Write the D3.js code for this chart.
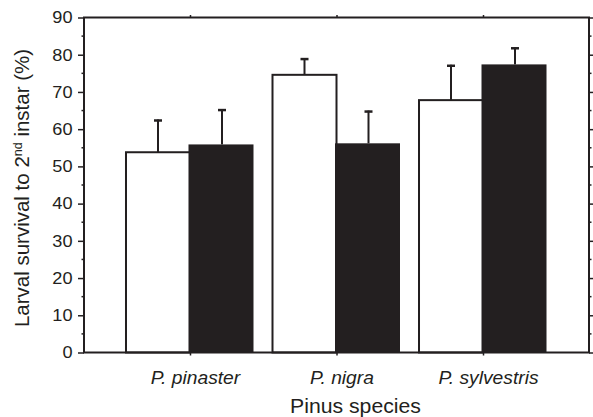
<!DOCTYPE html>
<html>
<head>
<meta charset="utf-8">
<script src="https://cdn.jsdelivr.net/npm/d3@7"></script>
<style>
  body { margin: 0; background: #fff; }
  text { font-family: Arial, "Liberation Sans", sans-serif; fill: #231f20; }
</style>
</head>
<body>
<div id="chart"></div>
<script>
// data
var species = ["P. pinaster", "P. nigra", "P. sylvestris"];
var whiteMeans = [53.8, 74.6, 67.8];
var whiteErrors = [8.8, 4.5, 9.5];
var blackMeans = [55.9, 56.2, 77.4];
var blackErrors = [9.5, 8.8, 4.6];
var yTicks = [0, 10, 20, 30, 40, 50, 60, 70, 80, 90];

var svgWidth = 593;
var svgHeight = 417;
var ink = "#231f20";
var stretch = 1.1; // the original figure's text is a bit wide

var margin = { top: 17.5, right: 4, bottom: 64.5, left: 84 };
var width = svgWidth - margin.left - margin.right;
var height = svgHeight - margin.top - margin.bottom;

var svg = d3.select("#chart")
  .append("svg")
  .attr("width", svgWidth)
  .attr("height", svgHeight);

var chartGroup = svg.append("g")
  .attr("transform", `translate(${margin.left}, ${margin.top})`);

// categories sit at 1, 2, 3 on a linear scale
var xScale = d3.scaleLinear()
  .domain([0.2765, 3.7235])
  .range([0, width]);

var yScale = d3.scaleLinear()
  .domain([0, 90])
  .range([height, 0]);

var barW = 64;

// bars
species.forEach(function(s, i) {
  var cx = xScale(i + 1);
  // white bar
  chartGroup.append("rect")
    .attr("x", cx - barW)
    .attr("y", yScale(whiteMeans[i]))
    .attr("width", barW)
    .attr("height", height - yScale(whiteMeans[i]))
    .attr("fill", "#fff")
    .attr("stroke", ink)
    .attr("stroke-width", 2);
  // black bar
  chartGroup.append("rect")
    .attr("x", cx - 1.5)
    .attr("y", yScale(blackMeans[i]))
    .attr("width", barW + 1)
    .attr("height", height - yScale(blackMeans[i]))
    .attr("fill", ink);

  // error bars (upper only)
  [[cx - barW / 2, whiteMeans[i], whiteErrors[i]],
   [cx + barW / 2, blackMeans[i], blackErrors[i]]].forEach(function(e) {
    chartGroup.append("line")
      .attr("x1", e[0]).attr("x2", e[0])
      .attr("y1", yScale(e[1]))
      .attr("y2", yScale(e[1] + e[2]))
      .attr("stroke", ink)
      .attr("stroke-width", 2);
    chartGroup.append("line")
      .attr("x1", e[0] - 4).attr("x2", e[0] + 4)
      .attr("y1", yScale(e[1] + e[2]) + 1)
      .attr("y2", yScale(e[1] + e[2]) + 1)
      .attr("stroke", ink)
      .attr("stroke-width", 2.5);
  });
});

// minor ticks every 5
var minor = d3.range(5, 90, 10);

// left axis
var leftAxis = d3.axisLeft(yScale).tickValues(yTicks).tickSize(6);
var leftG = chartGroup.append("g").call(leftAxis);
leftG.append("g").selectAll("line").data(minor).enter().append("line")
  .attr("x1", -2.5).attr("x2", 0)
  .attr("y1", d => yScale(d)).attr("y2", d => yScale(d));

// right axis
var rightAxis = d3.axisRight(yScale).tickValues(yTicks).tickSize(5).tickFormat("");
var rightG = chartGroup.append("g")
  .attr("transform", `translate(${width}, 0)`)
  .call(rightAxis);
rightG.append("g").selectAll("line").data(minor).enter().append("line")
  .attr("x1", 0).attr("x2", 2.5)
  .attr("y1", d => yScale(d)).attr("y2", d => yScale(d));

// bottom axis
var bottomAxis = d3.axisBottom(xScale).tickValues([1, 2, 3]).tickSize(3)
  .tickPadding(16).tickFormat((d, i) => species[i]);
var bottomG = chartGroup.append("g")
  .attr("transform", `translate(0, ${height})`)
  .call(bottomAxis);

// top axis
var topAxis = d3.axisTop(xScale).tickValues([1, 2, 3]).tickSize(2.5).tickFormat("");
var topG = chartGroup.append("g").call(topAxis);

[leftG, rightG, bottomG, topG].forEach(function(g) {
  g.select(".domain").attr("d", null);
  g.selectAll("line").attr("stroke", ink).attr("stroke-width", 1.5);
});

// frame drawn as one rect
chartGroup.append("rect")
  .attr("x", 0).attr("y", 0)
  .attr("width", width).attr("height", height)
  .attr("fill", "none")
  .attr("stroke", ink)
  .attr("stroke-width", 2);

leftG.selectAll("text")
  .attr("x", -11.5 / stretch)
  .attr("transform", `scale(${stretch},1)`)
  .attr("font-size", 16.5)
  .attr("font-family", "Arial, 'Liberation Sans', sans-serif")
  .attr("fill", ink);

bottomG.selectAll("text")
  .attr("x", 5 / stretch)
  .attr("transform", `scale(${stretch},1)`)
  .attr("font-size", 17.5)
  .attr("font-style", "italic")
  .attr("font-family", "Arial, 'Liberation Sans', sans-serif")
  .attr("fill", ink);

// axis titles
chartGroup.append("text")
  .attr("transform", `translate(${width / 2 + 19}, ${height + 60.5}) scale(${stretch},1)`)
  .attr("text-anchor", "middle")
  .attr("font-size", 19.3)
  .text("Pinus species");

var ylab = svg.append("text")
  .attr("transform", `translate(29, ${margin.top + height / 2 + 3}) rotate(-90)`)
  .attr("text-anchor", "middle")
  .attr("font-size", 20.5);
ylab.append("tspan").text("Larval survival to 2");
ylab.append("tspan").attr("dy", -7).attr("font-size", 12.5).text("nd");
ylab.append("tspan").attr("dy", 7).text(" instar (%)");
</script>
</body>
</html>
